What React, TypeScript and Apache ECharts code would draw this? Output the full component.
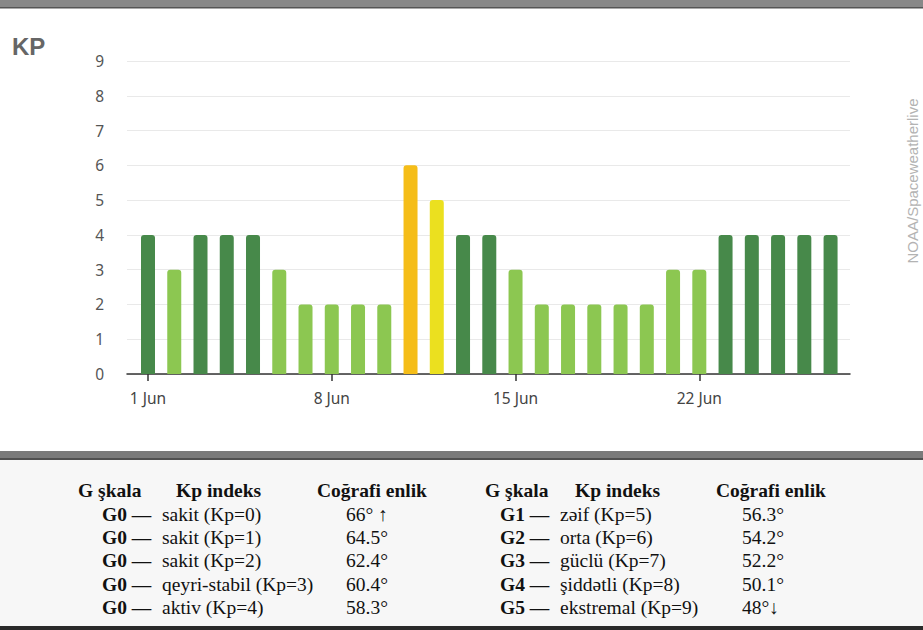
import React, { useEffect, useRef } from "react";
import * as echarts from "echarts";

const days = [1, 2, 3, 4, 5, 6, 7, 8, 9, 10, 11, 12, 13, 14, 15, 16, 17, 18, 19, 20, 21, 22, 23, 24, 25, 26, 27];
const kpValues = [4, 3, 4, 4, 4, 3, 2, 2, 2, 2, 6, 5, 4, 4, 3, 2, 2, 2, 2, 2, 3, 3, 4, 4, 4, 4, 4];
const dateTicks = [1, 8, 15, 22];
const yTicks = [0, 1, 2, 3, 4, 5, 6, 7, 8, 9];

const leftHeader = ["G şkala", "Kp indeks", "Coğrafi enlik"];
const leftScale = ["G0 —", "G0 —", "G0 —", "G0 —", "G0 —"];
const leftDesc = ["sakit (Kp=0)", "sakit (Kp=1)", "sakit (Kp=2)", "qeyri-stabil (Kp=3)", "aktiv (Kp=4)"];
const leftLat = ["66° ↑", "64.5°", "62.4°", "60.4°", "58.3°"];
const rightScale = ["G1 —", "G2 —", "G3 —", "G4 —", "G5 —"];
const rightDesc = ["zəif (Kp=5)", "orta (Kp=6)", "güclü (Kp=7)", "şiddətli (Kp=8)", "ekstremal (Kp=9)"];
const rightLat = ["56.3°", "54.2°", "52.2°", "50.1°", "48°↓"];

const colorFor = (v: number) => {
  if (v >= 6) return "#f5bd18";
  if (v >= 5) return "#ebe01f";
  if (v >= 4) return "#47894a";
  return "#8cc751";
};

export default function App() {
  const ref = useRef<HTMLDivElement>(null);
  useEffect(() => {
    document.body.style.margin = "0";
    if (!ref.current) return;
    const chart = echarts.init(ref.current, null, { renderer: "svg" });

    const serif = "'Liberation Serif', 'Times New Roman', serif";
    const rowY = [514, 537, 560, 584, 607];
    const tableTexts: any[] = [];
    const addText = (text: string, x: number, y: number, bold: boolean) => {
      tableTexts.push({
        type: "text",
        x,
        y,
        style: {
          text,
          fill: "#111",
          font: `${bold ? "bold " : ""}19.5px ${serif}`,
          textAlign: "left",
          textVerticalAlign: "middle",
        },
      });
    };
    const lx = [78, 176, 317];
    const rx = [485, 575, 716];
    leftHeader.forEach((h, i) => addText(h, lx[i], 490, true));
    leftHeader.forEach((h, i) => addText(h, rx[i], 490, true));
    rowY.forEach((y, i) => {
      addText(leftScale[i], 102, y, true);
      addText(leftDesc[i], 162, y, false);
      addText(leftLat[i], 346, y, false);
      addText(rightScale[i], 500, y, true);
      addText(rightDesc[i], 560, y, false);
      addText(rightLat[i], 742, y, false);
    });

    chart.setOption({
      animation: false,
      backgroundColor: "#ffffff",
      grid: { left: 127, right: 73, top: 61, bottom: 256, outerBoundsMode: "none" },
      xAxis: {
        type: "value",
        min: 0.2,
        max: 27.74,
        splitLine: { show: false },
        axisLine: { show: true, lineStyle: { color: "#333", width: 1.5 } },
        axisTick: { show: true, customValues: dateTicks, length: 7, lineStyle: { color: "#333", width: 1.5 } },
        axisLabel: {
          customValues: dateTicks,
          formatter: (v: number) => `${v} Jun`,
          color: "#444",
          fontSize: 15.5,
          fontFamily: "Noto Sans",
          margin: 16,
        },
      },
      yAxis: {
        type: "value",
        min: 0,
        max: 9,
        interval: 1,
        axisLine: { show: false },
        axisTick: { show: false },
        splitLine: { lineStyle: { color: "#e9e9e9", width: 1 } },
        axisLabel: {
          color: "#555",
          fontSize: 15.5,
          fontFamily: "Noto Sans",
          margin: 23,
          formatter: (v: number) => (yTicks.includes(v) ? String(v) : ""),
        },
      },
      series: [
        {
          type: "bar",
          barWidth: 14,
          data: days.map((d, i) => ({
            value: [d, kpValues[i]],
            itemStyle: { color: colorFor(kpValues[i]), borderRadius: [3, 3, 0, 0] },
          })),
        },
      ],
      graphic: [
        { type: "rect", shape: { x: 0, y: 0, width: 923, height: 7 }, style: { fill: "#888888" } },
        { type: "rect", shape: { x: 0, y: 7, width: 923, height: 1.5 }, style: { fill: "#555555" } },
        {
          type: "text",
          x: 12,
          y: 46,
          style: { text: "KP", fill: "#666", font: "bold 24px 'Liberation Sans', Arial, sans-serif", textVerticalAlign: "middle" },
        },
        {
          type: "text",
          x: 912,
          y: 181,
          rotation: Math.PI / 2,
          style: {
            text: "NOAA/Spaceweatherlive",
            fill: "#b3b3b3",
            font: "15px 'Liberation Sans', Arial, sans-serif",
            textAlign: "center",
            textVerticalAlign: "middle",
          },
        },
        { type: "rect", shape: { x: 0, y: 451, width: 923, height: 8 }, style: { fill: "#7a7a7a" } },
        { type: "rect", shape: { x: 0, y: 458, width: 923, height: 2 }, style: { fill: "#505050" } },
        { type: "rect", shape: { x: 0, y: 460, width: 923, height: 166 }, style: { fill: "#f7f7f7" } },
        { type: "rect", shape: { x: 0, y: 626, width: 923, height: 4 }, style: { fill: "#2a2a2a" } },
        ...tableTexts,
      ],
    });
    return () => chart.dispose();
  }, []);
  return <div ref={ref} style={{ width: 923, height: 630 }} />;
}
